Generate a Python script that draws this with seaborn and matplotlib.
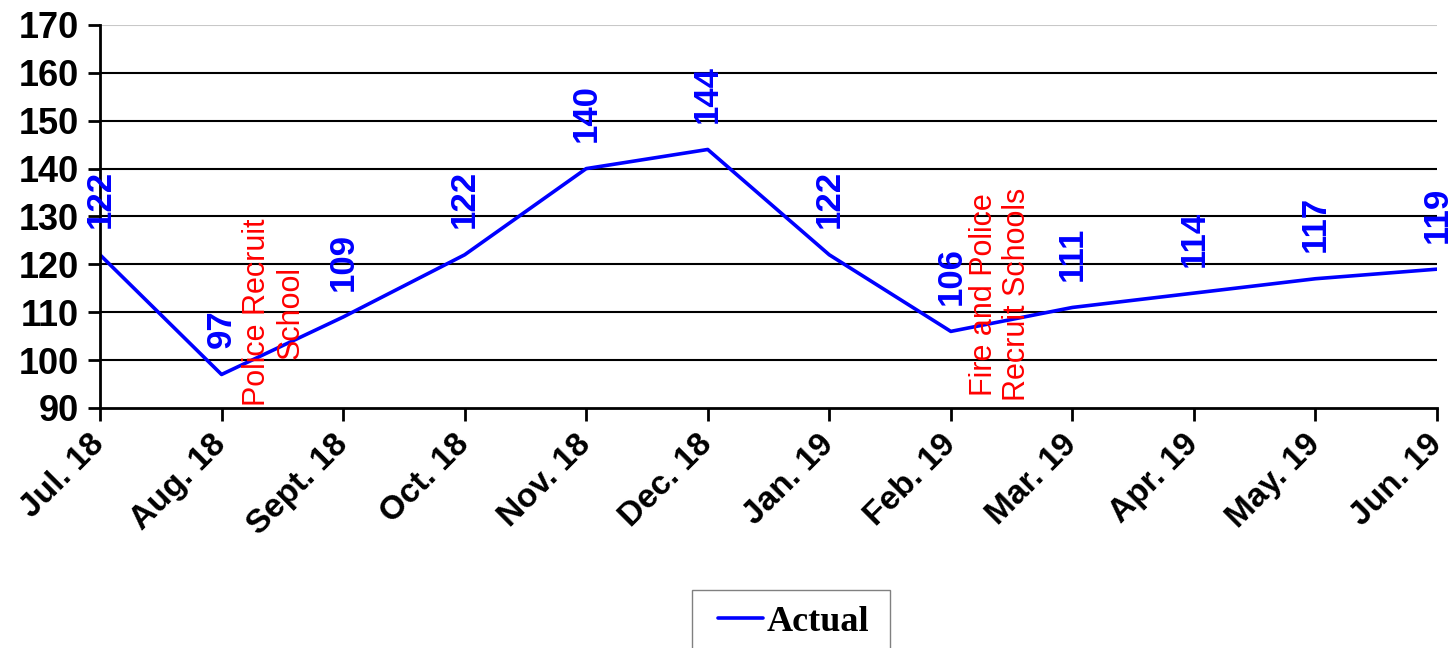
import matplotlib
matplotlib.use("Agg")
import matplotlib.pyplot as plt
from matplotlib.patches import Rectangle
import seaborn as sns
import pandas as pd

months = ["Jul. 18", "Aug. 18", "Sept. 18", "Oct. 18", "Nov. 18", "Dec. 18",
          "Jan. 19", "Feb. 19", "Mar. 19", "Apr. 19", "May. 19", "Jun. 19"]
actual = [122, 97, 109, 122, 140, 144, 122, 106, 111, 114, 117, 119]
y_ticks = [90, 100, 110, 120, 130, 140, 150, 160, 170]

notes = ["Police Recruit\nSchool", "Fire and Police\nRecruit Schools"]
note_x = [1.43, 7.41]
note_y = [90.4, 91.5]

sns.set_style("white")
plt.rcParams["font.family"] = ["Liberation Sans", "DejaVu Sans"]
plt.rcParams["text.color"] = "black"
plt.rcParams["xtick.color"] = "black"
plt.rcParams["ytick.color"] = "black"

fig = plt.figure(figsize=(14.55, 6.48), dpi=100)
ax = fig.add_axes([100 / 1455, 1 - 408 / 648, 1337 / 1455, 383 / 648])

df = pd.DataFrame({"pos": range(len(months)), "value": actual})
sns.lineplot(data=df, x="pos", y="value", ax=ax, color="#0000FF",
             linewidth=2.6, label="Actual", legend=False)

ax.set_xlim(0, len(months) - 1)
ax.set_ylim(y_ticks[0], y_ticks[-1])
ax.set_yticks(y_ticks)
ax.set_xticks(range(len(months)))
ax.set_xticklabels(months, rotation=45, ha="right", va="center",
                   rotation_mode="anchor", fontsize=24, fontweight="bold",
                   color="black")
ax.set_yticklabels([str(t) for t in y_ticks], fontsize=26, fontweight="bold",
                   color="black")
ax.set_xlabel("")
ax.set_ylabel("")

for t in y_ticks[1:-1]:
    ax.axhline(t, color="black", linewidth=1.5, zorder=0)
ax.axhline(y_ticks[-1], color="#C8C8C8", linewidth=1.5, zorder=0)

for side in ["top", "right"]:
    ax.spines[side].set_visible(False)
for side in ["left", "bottom"]:
    ax.spines[side].set_color("black")
    ax.spines[side].set_linewidth(2)
ax.tick_params(axis="both", direction="out", length=9, width=2,
               color="black", pad=6, bottom=True, left=True)
ax.tick_params(axis="x", pad=14)

for i, v in enumerate(actual):
    ax.annotate(str(v), (i, v), xytext=(0, 19), textcoords="offset points",
                rotation=90, ha="center", va="bottom", fontsize=25,
                fontweight="bold", color="#0000FF", annotation_clip=False)

for txt, x, y in zip(notes, note_x, note_y):
    ax.text(x, y, txt, rotation=90, ha="center", va="bottom",
            multialignment="center", fontsize=22, color="#FF0000",
            linespacing=1.15)

# Legend box, open at the bottom edge of the figure
fig.patches.append(Rectangle((692 / 1455, -0.02), 198 / 1455, 1 - 590 / 648 + 0.02,
                             transform=fig.transFigure, facecolor="white",
                             edgecolor="#808080", linewidth=1, zorder=1))

handles, labels = ax.get_legend_handles_labels()
leg = fig.legend(handles, labels, loc="center left",
                 bbox_to_anchor=(718 / 1455, 1 - 622 / 648),
                 prop={"family": "Liberation Serif", "weight": "bold", "size": 26},
                 frameon=False, handlelength=1.25,
                 borderpad=0, handletextpad=0.1, borderaxespad=0)
leg.set_zorder(2)

fig.savefig("out.png", dpi=100)
